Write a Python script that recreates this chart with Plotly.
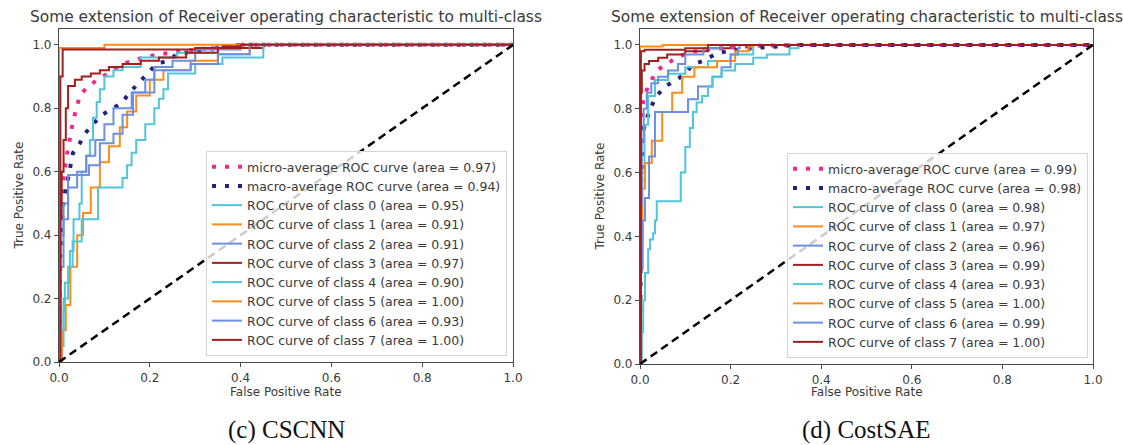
import plotly.graph_objects as go

W, H = 1123, 445

# ---------------- DATA ----------------
titles = ["Some extension of Receiver operating characteristic to multi-class"] * 2
captions = ["(c) CSCNN", "(d) CostSAE"]
tick_vals = [0.0, 0.2, 0.4, 0.6, 0.8, 1.0]
tick_text = ["0.0", "0.2", "0.4", "0.6", "0.8", "1.0"]

# --- (c) CSCNN ---
L_micro_area = 0.97
L_micro_fpr = [0, 0.0, 0.009, 0.017, 0.031, 0.046, 0.064, 0.086, 0.105, 0.14, 0.185, 0.22, 0.3, 0.4, 1.0]
L_micro_tpr = [0, 0.45, 0.57, 0.65, 0.76, 0.84, 0.87, 0.89, 0.91, 0.94, 0.96, 0.97, 0.985, 1.0, 1.0]
L_macro_area = 0.94
L_macro_fpr = [0, 0.003, 0.009, 0.031, 0.046, 0.057, 0.075, 0.095, 0.12, 0.14, 0.156, 0.175, 0.196, 0.215, 0.24, 0.26, 0.32, 0.4, 1.0]
L_macro_tpr = [0, 0.35, 0.50, 0.66, 0.69, 0.72, 0.75, 0.78, 0.80, 0.82, 0.85, 0.88, 0.91, 0.94, 0.95, 0.97, 0.985, 1.0, 1.0]
L_areas = [0.95, 0.91, 0.91, 0.97, 0.90, 1.00, 0.93, 1.00]
L_fpr = [
    [0, 0.005, 0.010, 0.013, 0.024, 0.032, 0.045, 0.05, 0.06, 0.068, 0.075, 0.083, 0.09, 0.10, 0.12, 0.14, 0.18, 0.26, 0.34, 0.44, 1.0],
    [0, 0.007, 0.015, 0.025, 0.04, 0.053, 0.07, 0.09, 0.11, 0.134, 0.15, 0.17, 0.2, 0.23, 0.29, 0.35, 0.42, 1.0],
    [0, 0.003, 0.01, 0.02, 0.066, 0.09, 0.12, 0.14, 0.163, 0.19, 0.21, 0.25, 0.3, 0.4, 1.0],
    [0, 0.003, 0.006, 0.01, 0.015, 0.02, 0.035, 0.05, 0.07, 0.09, 0.11, 0.14, 0.18, 0.22, 0.28, 0.35, 0.45, 1.0],
    [0, 0.005, 0.01, 0.02, 0.03, 0.05, 0.086, 0.14, 0.15, 0.16, 0.17, 0.19, 0.21, 0.22, 0.23, 0.24, 0.3, 0.36, 0.45, 1.0],
    [0, 0.0, 0.1, 1.0],
    [0, 0.003, 0.01, 0.02, 0.04, 0.06, 0.08, 0.1, 0.12, 0.16, 0.2, 0.21, 0.29, 0.35, 0.42, 1.0],
    [0, 0.003, 0.008, 0.3, 0.36, 0.4, 1.0],
]
L_tpr = [
    [0, 0.05, 0.16, 0.25, 0.35, 0.45, 0.50, 0.60, 0.65, 0.70, 0.77, 0.82, 0.86, 0.90, 0.92, 0.93, 0.96, 0.975, 0.99, 1.0, 1.0],
    [0, 0.1, 0.18, 0.3, 0.4, 0.47, 0.55, 0.63, 0.68, 0.74, 0.79, 0.84, 0.89, 0.92, 0.95, 0.97, 1.0, 1.0],
    [0, 0.3, 0.45, 0.59, 0.62, 0.69, 0.72, 0.78, 0.85, 0.89, 0.93, 0.95, 0.985, 1.0, 1.0],
    [0, 0.45, 0.6, 0.7, 0.8, 0.87, 0.89, 0.9, 0.91, 0.92, 0.93, 0.94, 0.95, 0.96, 0.975, 0.99, 1.0, 1.0],
    [0, 0.1, 0.2, 0.3, 0.38, 0.45, 0.55, 0.58, 0.62, 0.66, 0.70, 0.75, 0.80, 0.83, 0.86, 0.91, 0.94, 0.96, 1.0, 1.0],
    [0, 0.99, 1.0, 1.0],
    [0, 0.4, 0.5, 0.55, 0.6, 0.65, 0.7, 0.75, 0.8, 0.85, 0.85, 0.92, 0.94, 0.97, 1.0, 1.0],
    [0, 0.9, 0.985, 0.99, 0.995, 1.0, 1.0],
]

# --- (d) CostSAE ---
R_micro_area = 0.99
R_micro_fpr = [0, 0.0, 0.002, 0.007, 0.018, 0.037, 0.06, 0.08, 0.106, 0.14, 0.18, 0.25, 0.35, 1.0]
R_micro_tpr = [0, 0.5, 0.7, 0.83, 0.87, 0.92, 0.94, 0.96, 0.975, 0.985, 0.99, 0.997, 1.0, 1.0]
R_macro_area = 0.98
R_macro_fpr = [0, 0.002, 0.007, 0.022, 0.037, 0.055, 0.08, 0.1, 0.117, 0.14, 0.165, 0.19, 0.25, 0.35, 1.0]
R_macro_tpr = [0, 0.55, 0.73, 0.80, 0.84, 0.87, 0.89, 0.91, 0.94, 0.95, 0.97, 0.98, 0.99, 1.0, 1.0]
R_areas = [0.98, 0.97, 0.96, 0.99, 0.93, 1.00, 0.99, 1.00]
R_fpr = [
    [0, 0.002, 0.005, 0.01, 0.018, 0.033, 0.062, 0.1, 0.15, 0.2, 0.25, 1.0],
    [0, 0.002, 0.005, 0.011, 0.026, 0.049, 0.071, 0.093, 0.12, 0.17, 0.21, 0.24, 0.25, 1.0],
    [0, 0.002, 0.006, 0.011, 0.02, 0.033, 0.1, 0.106, 0.128, 0.16, 0.18, 0.2, 0.216, 0.22, 1.0],
    [0, 0.001, 0.004, 0.01, 0.02, 0.04, 0.06, 0.1, 0.15, 0.2, 1.0],
    [0, 0.004, 0.007, 0.011, 0.018, 0.022, 0.029, 0.033, 0.037, 0.084, 0.09, 0.1, 0.11, 0.117, 0.125, 0.137, 0.15, 0.16, 0.18, 0.21, 0.25, 0.28, 0.33, 0.35, 1.0],
    [0, 0.0, 0.05, 1.0],
    [0, 0.001, 0.004, 0.008, 0.015, 0.025, 0.04, 0.062, 0.084, 0.1, 0.14, 0.18, 1.0],
    [0, 0.002, 0.01, 0.1, 0.15, 1.0],
]
R_tpr = [
    [0, 0.4, 0.6, 0.75, 0.84, 0.89, 0.91, 0.93, 0.95, 0.97, 1.0, 1.0],
    [0, 0.35, 0.55, 0.63, 0.70, 0.79, 0.85, 0.90, 0.93, 0.95, 0.98, 0.995, 1.0, 1.0],
    [0, 0.3, 0.45, 0.52, 0.65, 0.79, 0.79, 0.83, 0.87, 0.9, 0.93, 0.97, 0.99, 1.0, 1.0],
    [0, 0.85, 0.92, 0.94, 0.95, 0.96, 0.97, 0.98, 0.99, 1.0, 1.0],
    [0, 0.1, 0.2, 0.285, 0.36, 0.39, 0.41, 0.45, 0.51, 0.51, 0.6, 0.68, 0.74, 0.79, 0.82, 0.84, 0.87, 0.9, 0.92, 0.94, 0.96, 0.97, 0.99, 1.0, 1.0],
    [0, 0.995, 1.0, 1.0],
    [0, 0.5, 0.7, 0.8, 0.85, 0.88, 0.9, 0.92, 0.94, 0.97, 0.99, 1.0, 1.0],
    [0, 0.98, 0.985, 0.99, 1.0, 1.0],
]

# ---------------- STYLE ----------------
class_colors = ["#4fc6da", "#ff8c1a", "#6b8fe3", "#a21f1f"]
micro_color = "#f2288c"
macro_color = "#23237c"
text_color = "#3a3a3a"
axis_color = "#4a4a4a"
FONT = "DejaVu Sans"

def px_x(p):
    return p / W

def px_y(p):
    return 1 - p / H

panels = [
    dict(xd=(59, 513), yd=(29, 362), micro=(L_micro_fpr, L_micro_tpr, L_micro_area),
         macro=(L_macro_fpr, L_macro_tpr, L_macro_area), fpr=L_fpr, tpr=L_tpr, areas=L_areas,
         legend=(507, 356), ylab_x=18, cap_x=286),
    dict(xd=(640, 1093), yd=(29, 364), micro=(R_micro_fpr, R_micro_tpr, R_micro_area),
         macro=(R_macro_fpr, R_macro_tpr, R_macro_area), fpr=R_fpr, tpr=R_tpr, areas=R_areas,
         legend=(1088, 358), ylab_x=599, cap_x=866),
]

fig = go.Figure()
annotations = []
layout = {}
for i, p in enumerate(panels):
    sfx = "" if i == 0 else str(i + 1)
    xa, ya = "x" + sfx, "y" + sfx
    lg = "legend" + sfx
    mf, mt, ma = p["micro"]
    fig.add_trace(go.Scatter(x=mf, y=mt, mode="lines", xaxis=xa, yaxis=ya, legend=lg,
                             name=f"micro-average ROC curve (area = {ma:.2f})",
                             line=dict(color=micro_color, width=4, dash="4px,9px")))
    mf, mt, ma = p["macro"]
    fig.add_trace(go.Scatter(x=mf, y=mt, mode="lines", xaxis=xa, yaxis=ya, legend=lg,
                             name=f"macro-average ROC curve (area = {ma:.2f})",
                             line=dict(color=macro_color, width=4, dash="4px,9px")))
    for k in range(8):
        fig.add_trace(go.Scatter(x=p["fpr"][k], y=p["tpr"][k], mode="lines", xaxis=xa, yaxis=ya,
                                 legend=lg, line_shape="hv",
                                 name=f"ROC curve of class {k} (area = {p['areas'][k]:.2f})",
                                 line=dict(color=class_colors[k % 4], width=2)))
    fig.add_trace(go.Scatter(x=[0, 1], y=[0, 1], mode="lines", xaxis=xa, yaxis=ya, showlegend=False,
                             line=dict(color="black", width=2.5, dash="8px,5px")))

    axcommon = dict(showgrid=False, zeroline=False, showline=True, mirror=True, linecolor=axis_color,
                    linewidth=1.2, ticks="outside", ticklen=4, tickcolor=axis_color, automargin=False,
                    tickfont=dict(family=FONT, size=12, color=text_color),
                    tickvals=tick_vals, ticktext=tick_text)
    layout["xaxis" + sfx] = dict(axcommon, domain=[px_x(p["xd"][0]), px_x(p["xd"][1])], range=[0, 1],
                                 anchor=ya)
    layout["yaxis" + sfx] = dict(axcommon, domain=[px_y(p["yd"][1]), px_y(p["yd"][0])], range=[0, 1.05],
                                 anchor=xa)
    layout[lg] = dict(x=px_x(p["legend"][0]), xanchor="right", y=px_y(p["legend"][1]), yanchor="bottom",
                      bgcolor="rgba(255,255,255,0.8)", bordercolor="#d4d4d4", borderwidth=1,
                      font=dict(family=FONT, size=12.5, color=text_color), itemwidth=30,
                      tracegroupgap=0)
    cx = (p["xd"][0] + p["xd"][1]) / 2
    annotations.append(dict(text=titles[i], x=px_x(cx), y=px_y(17), xref="paper", yref="paper",
                            showarrow=False, xanchor="center", yanchor="middle",
                            font=dict(family=FONT, size=15.4, color=text_color)))
    annotations.append(dict(text="False Positive Rate", x=px_x(cx), y=px_y(392), xref="paper", yref="paper",
                            showarrow=False, xanchor="center", yanchor="middle",
                            font=dict(family=FONT, size=12, color=text_color)))
    annotations.append(dict(text="True Positive Rate", x=px_x(p["ylab_x"]), y=px_y((p["yd"][0] + p["yd"][1]) / 2),
                            xref="paper", yref="paper", textangle=-90,
                            showarrow=False, xanchor="center", yanchor="middle",
                            font=dict(family=FONT, size=12, color=text_color)))
    annotations.append(dict(text=captions[i], x=px_x(p["cap_x"]), y=px_y(430), xref="paper", yref="paper",
                            showarrow=False, xanchor="center", yanchor="middle",
                            font=dict(family="Liberation Serif", size=25, color="#111")))

fig.update_layout(width=W, height=H, margin=dict(l=0, r=0, t=0, b=0, autoexpand=False), paper_bgcolor="white",
                  plot_bgcolor="white", annotations=annotations, **layout)
fig.write_html("out.html", config={"displayModeBar": False})
